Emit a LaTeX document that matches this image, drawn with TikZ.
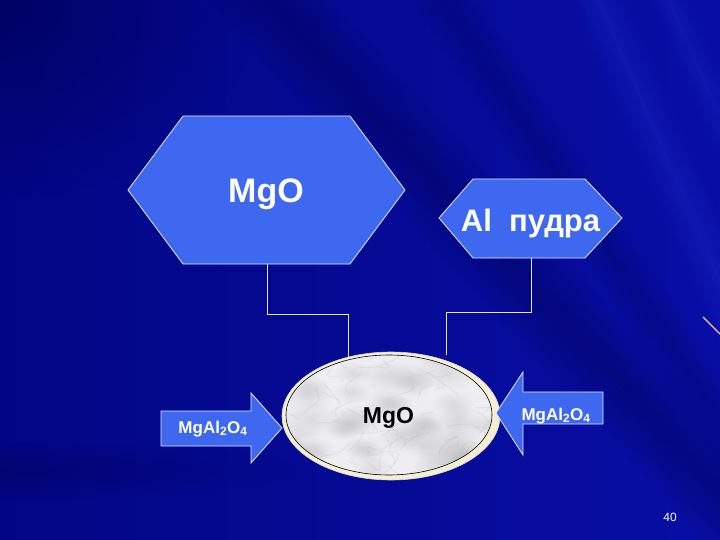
\documentclass[tikz,border=0pt]{standalone}
\usepackage{fontspec}
\setmainfont{Liberation Sans}
\usetikzlibrary{shapes.geometric,fadings}
\definecolor{bgdark}{RGB}{0,0,80}
\definecolor{bgleft}{RGB}{3,6,132}
\definecolor{bgright}{RGB}{8,14,165}
\definecolor{bglight}{RGB}{30,40,200}
\definecolor{hexblue}{RGB}{62,104,240}
\definecolor{cream}{RGB}{244,238,212}
\definecolor{marble}{RGB}{238,238,242}
\definecolor{wire}{RGB}{225,228,245}
\tikzfading[name=softblob, inner color=transparent!0, outer color=transparent!100]
\begin{document}
\begin{tikzpicture}[x=1pt,y=-1pt,
  shapefill/.style={fill=hexblue, draw=white!85!hexblue, line width=0.8pt, line join=miter},
  wirestyle/.style={draw=wire, line width=1pt},
  lbl/.style={text=white, inner sep=0pt, anchor=base}]
\useasboundingbox (0,0) rectangle (720,540);
% background
\shade[left color=bgleft, right color=bgright] (0,0) rectangle (720,540);
\begin{scope}
\clip (0,0) rectangle (720,540);
\fill[bgdark, opacity=0.6, path fading=softblob] (0,0) ellipse [x radius=260, y radius=200];
\fill[bgdark, opacity=0.35, path fading=softblob] (0,470) ellipse [x radius=300, y radius=30];
% dark streak 1
\foreach \k in {-12,...,12}{
  \pgfmathsetmacro{\op}{0.4*(1-abs(\k)/13)}
  \draw[bgdark, line width=3.9pt, opacity=\op] (250+\k*5,-20) -- (838+\k*5,620);
}
% dark streak 2
\foreach \k in {-6,...,6}{
  \pgfmathsetmacro{\op}{0.28*(1-abs(\k)/7)}
  \draw[bgdark, line width=4.2pt, opacity=\op] (430+\k*5,-20) -- (852+\k*5,620);
}
% light streaks
\foreach \k in {-5,...,5}{
  \pgfmathsetmacro{\op}{0.38*(1-abs(\k)/6)}
  \draw[bglight, line width=4.4pt, opacity=\op] (590+\k*5,-20) -- (866+\k*5,620);
}
\foreach \k in {-3,...,3}{
  \pgfmathsetmacro{\op}{0.33*(1-abs(\k)/4)}
  \draw[bglight, line width=4.4pt, opacity=\op] (660+\k*5,-20) -- (940+\k*5,620);
}
\end{scope}
\draw[white!75!magenta, line width=1.2pt] (703,317) -- (720,334);
% hexagons
\path[shapefill] (128,190) -- (183,116) -- (350,116) -- (405,190) -- (350,264) -- (183,264) -- cycle;
\node[lbl, font=\bfseries\fontsize{34}{40}\selectfont] (mgo) at (266,203) {MgO};
\coordinate (mgo-s) at (267,264);
\path[shapefill] (439,218) -- (473,179) -- (585,179) -- (622,218) -- (585,258) -- (473,258) -- cycle;
\node[lbl, font=\bfseries\fontsize{31}{36}\selectfont] (al) at (530.5,232) {Al\ \ пудра};
\coordinate (al-s) at (531,258);
% core ellipse
\node[ellipse, fill=cream, draw=cream!80!gray, line width=0.6pt, minimum width=218pt, minimum height=128pt, inner sep=0pt] (core) at (391,416) {};
\begin{scope}
\clip (389,415) ellipse [x radius=103, y radius=60];
\fill[marble] (280,350) rectangle (500,480);
\pgfmathsetseed{11}
\foreach \i in {1,...,40}{
  \pgfmathsetmacro{\xa}{389+105*rand}
  \pgfmathsetmacro{\ya}{415+62*rand}
  \pgfmathsetmacro{\ra}{10+10*rnd}
  \fill[gray, opacity=0.17, path fading=softblob] (\xa,\ya) ellipse [x radius=\ra*1.6, y radius=\ra];
}
\foreach \i in {1,...,60}{
  \pgfmathsetmacro{\xa}{389+105*rand}
  \pgfmathsetmacro{\ya}{415+62*rand}
  \pgfmathsetmacro{\xb}{\xa+22*rand}
  \pgfmathsetmacro{\yb}{\ya+14*rand}
  \pgfmathsetmacro{\xc}{\xb+22*rand}
  \pgfmathsetmacro{\yc}{\yb+14*rand}
  \draw[gray!80, opacity=0.22, line width=0.5pt] (\xa,\ya) .. controls (\xb,\yb) .. (\xc,\yc);
}
\end{scope}
\draw[black, line width=0.6pt] (389,415) ellipse [x radius=103, y radius=60];
\node[lbl, text=black, font=\bfseries\fontsize{23}{28}\selectfont] (mgoc) at (388.5,423) {MgO};
\coordinate (core-l) at (348,357);
\coordinate (core-r) at (446,355);
% connectors
\draw[wirestyle] (mgo-s) -- (267,314) -- (348,314) -- (core-l);
\draw[wirestyle] (al-s) -- (531,312) -- (446,312) -- (core-r);
% arrows
\path[shapefill] (161,411) -- (251,411) -- (251,393) -- (282,428) -- (251,463) -- (251,446) -- (161,446) -- cycle;
\node[lbl, font=\bfseries\fontsize{17}{20}\selectfont] (inl) at (213,433) {MgAl\textsubscript{2}O\textsubscript{4}};
\path[shapefill] (603,392) -- (523,392) -- (523,372) -- (496,413) -- (523,455) -- (523,424) -- (603,424) -- cycle;
\node[lbl, font=\bfseries\fontsize{17}{20}\selectfont] (inr) at (556,420) {MgAl\textsubscript{2}O\textsubscript{4}};
\node[lbl, font=\fontsize{12}{14}\selectfont] (page) at (670,521) {40};
\end{tikzpicture}
\end{document}
